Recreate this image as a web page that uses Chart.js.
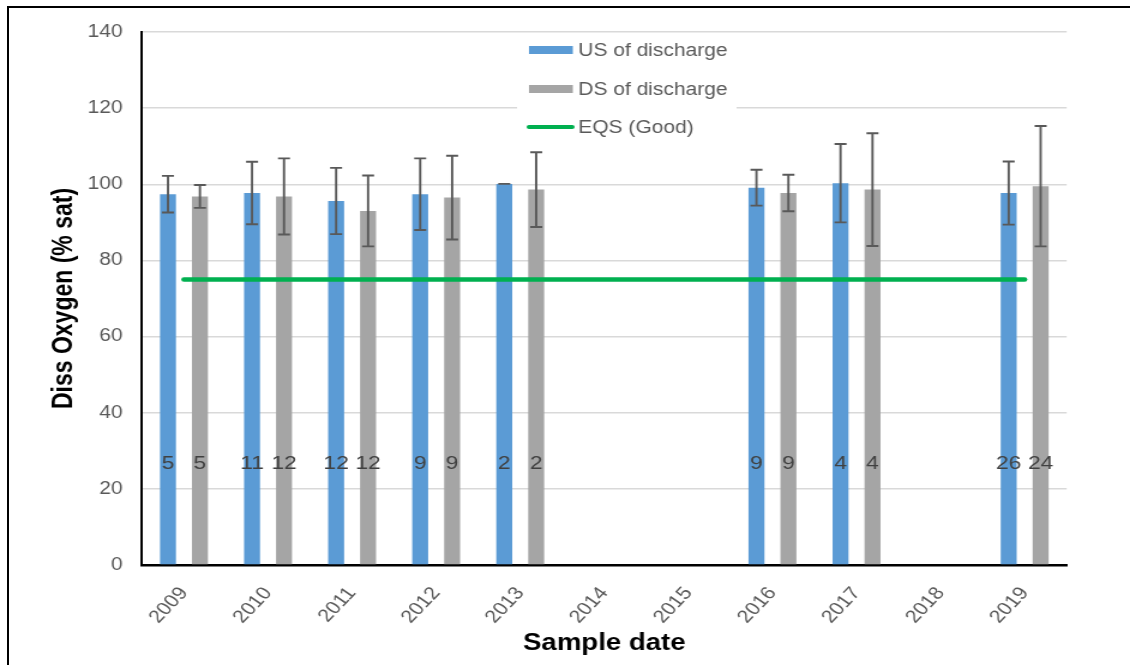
<!DOCTYPE html>
<html>
<head>
<meta charset="utf-8">
<script src="https://cdn.jsdelivr.net/npm/chart.js@4.4.1/dist/chart.umd.min.js"></script>
<style>
  html, body { margin: 0; padding: 0; background: #fff; overflow: hidden; }
  #frame { position: absolute; left: 7px; top: 6px; width: 1121px; height: 657px; border-left: 2px solid #000; border-top: 2px solid #000; }
  #wrap { position: absolute; left: 0; top: 0; width: 942px; height: 665px; transform: scaleX(1.1996); transform-origin: 0 0; }
</style>
</head>
<body>
<div id="frame"></div>
<div id="wrap"><canvas id="chart" width="942" height="665"></canvas></div>
<script>
// sample years
const years = ['2009', '2010', '2011', '2012', '2013', '2014', '2015', '2016', '2017', '2018', '2019'];

// upstream of discharge: mean, +/- error, sample count
const usMean = [97.4, 97.7, 95.6, 97.4, 100.1, null, null, 99.1, 100.3, null, 97.7];
const usErr  = [4.8, 8.2, 8.7, 9.4, 0, null, null, 4.7, 10.3, null, 8.3];
const usN    = [5, 11, 12, 9, 2, null, null, 9, 4, null, 26];

// downstream of discharge
const dsMean = [96.8, 96.8, 93.0, 96.5, 98.6, null, null, 97.7, 98.6, null, 99.5];
const dsErr  = [3.0, 10.0, 9.3, 11.0, 9.8, null, null, 4.8, 14.8, null, 15.8];
const dsN    = [5, 12, 12, 9, 2, null, null, 9, 4, null, 24];

// EQS (Good) standard
const eqsGood = [75, 75, 75, 75, 75, 75, 75, 75, 75, 75, 75];

const FONT = '"Liberation Sans", Arial, sans-serif';
const BLUE = '#5B9BD5';
const GREY = '#A5A5A5';
const GREEN = '#00B050';

// error bars + sample counts on the bars
const barExtras = {
    id: 'barExtras',
    afterDatasetsDraw(chart) {
        const ctx = chart.ctx;
        const y = chart.scales.y;
        ctx.save();
        chart.data.datasets.forEach((ds, di) => {
            if (!ds.err) return;
            const meta = chart.getDatasetMeta(di);
            meta.data.forEach((bar, i) => {
                if (ds.data[i] == null) return;
                const top = y.getPixelForValue(ds.data[i] + ds.err[i]);
                const bot = y.getPixelForValue(ds.data[i] - ds.err[i]);
                ctx.strokeStyle = '#595959';
                ctx.lineWidth = 1.9;
                ctx.beginPath();
                ctx.moveTo(bar.x, top);
                ctx.lineTo(bar.x, bot);
                ctx.moveTo(bar.x - 5, top);
                ctx.lineTo(bar.x + 5, top);
                ctx.moveTo(bar.x - 5, bot);
                ctx.lineTo(bar.x + 5, bot);
                ctx.stroke();

                ctx.fillStyle = '#404040';
                ctx.font = '19px ' + FONT;
                ctx.textAlign = 'center';
                ctx.textBaseline = 'middle';
                ctx.fillText(String(ds.n[i]), bar.x, y.getPixelForValue(26.6));
            });
        });
        ctx.restore();
    }
};

// legend in a white box inside the plot
const boxLegend = {
    id: 'boxLegend',
    beforeDatasetsDraw(chart) {
        const ctx = chart.ctx;
        ctx.save();
        ctx.fillStyle = '#fff';
        ctx.fillRect(431, 36, 183, 110);
        const rows = [50, 89, 127];
        chart.data.datasets.forEach((ds, i) => {
            const cy = rows[i];
            if (ds.type === 'line') {
                ctx.strokeStyle = ds.borderColor;
                ctx.lineWidth = 4;
                ctx.lineCap = 'round';
                ctx.beginPath();
                ctx.moveTo(441, cy);
                ctx.lineTo(477, cy);
                ctx.stroke();
            } else {
                ctx.fillStyle = ds.backgroundColor;
                ctx.fillRect(441, cy - 4, 36.5, 8);
            }
            ctx.fillStyle = '#595959';
            ctx.font = '17.5px ' + FONT;
            ctx.textAlign = 'left';
            ctx.textBaseline = 'middle';
            ctx.fillText(ds.label, 482, cy + 1);
        });
        ctx.restore();
    }
};

new Chart(document.getElementById('chart'), {
    type: 'bar',
    data: {
        labels: years,
        datasets: [{
            label: 'US of discharge',
            data: usMean,
            err: usErr,
            n: usN,
            backgroundColor: BLUE,
            order: 1
        },
        {
            label: 'DS of discharge',
            data: dsMean,
            err: dsErr,
            n: dsN,
            backgroundColor: GREY,
            order: 1
        },
        {
            type: 'line',
            label: 'EQS (Good)',
            data: eqsGood,
            borderColor: GREEN,
            borderWidth: 4.5,
            borderCapStyle: 'round',
            pointRadius: 0,
            fill: false,
            order: 0
        }]
    },
    options: {
        responsive: false,
        animation: false,
        datasets: {
            bar: { categoryPercentage: 0.76, barPercentage: 0.5 }
        },
        layout: {
            padding: { top: 32, right: 52.8, bottom: 0, left: 0 }
        },
        plugins: {
            legend: { display: false },
            tooltip: { enabled: false }
        },
        scales: {
            x: {
                grid: { display: false },
                border: { color: '#000', width: 2.5 },
                ticks: {
                    color: '#595959',
                    font: { family: FONT, size: 18 },
                    minRotation: 51,
                    maxRotation: 51,
                    autoSkip: false,
                    padding: 10
                },
                title: {
                    display: true,
                    text: 'Sample date',
                    color: '#000',
                    font: { family: FONT, size: 23, weight: 'bold' },
                    padding: { top: 0, bottom: 8 }
                },
                afterFit: s => { s.height = 100; }
            },
            y: {
                min: 0,
                max: 140,
                ticks: {
                    stepSize: 20,
                    color: '#595959',
                    font: { family: FONT, size: 17.5 },
                    padding: 16
                },
                grid: { color: '#d9d9d9', lineWidth: 1.5, drawTicks: false },
                border: { color: '#000', width: 2 },
                title: {
                    display: true,
                    text: 'Diss Oxygen (% sat)',
                    color: '#000',
                    font: { family: FONT, size: 23, weight: 'bold' },
                    padding: { top: 40, bottom: 0 }
                },
                afterFit: s => { s.width = 118.3; }
            }
        }
    },
    plugins: [boxLegend, barExtras]
});
</script>
</body>
</html>
